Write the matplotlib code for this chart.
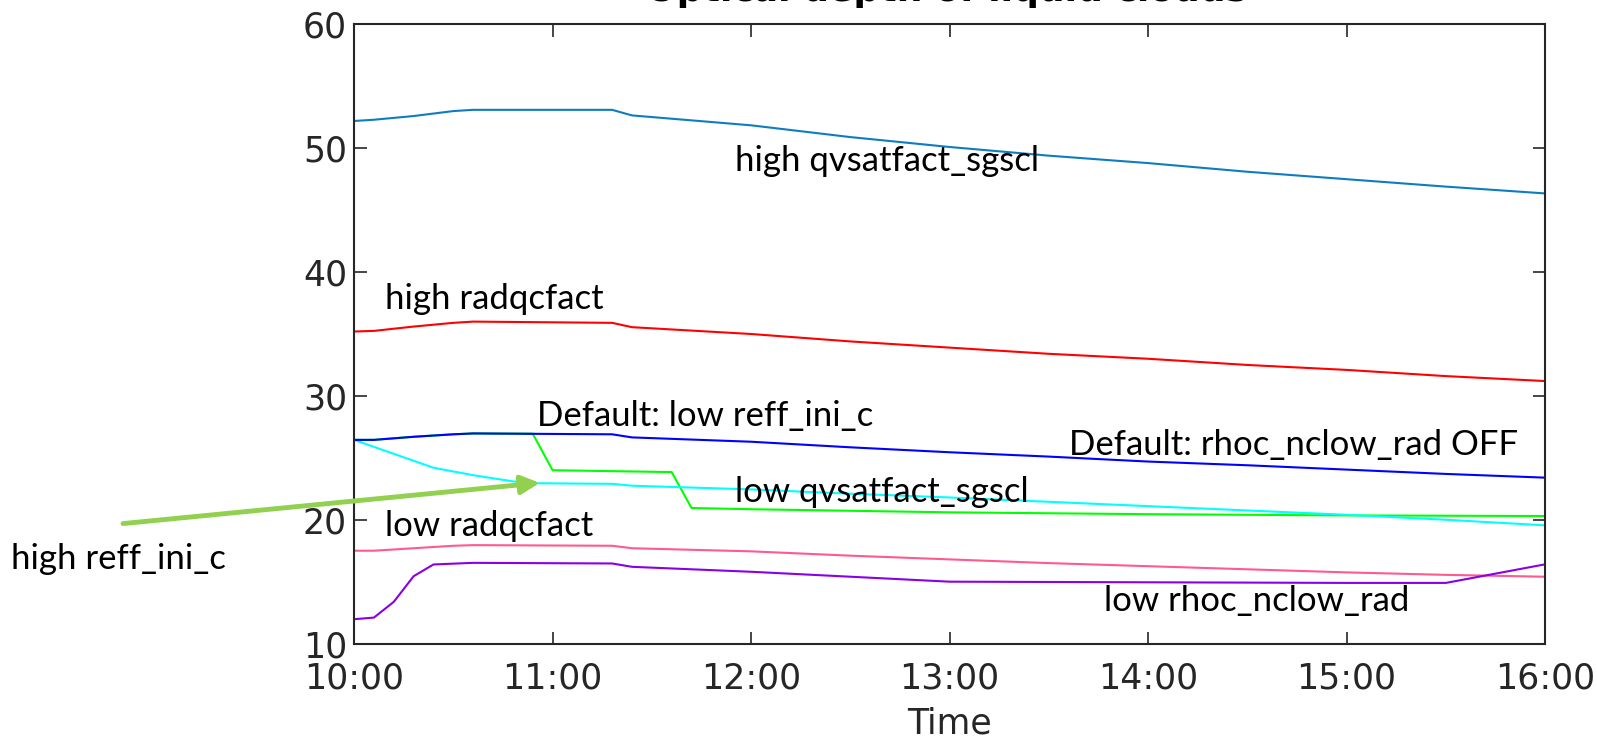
import datetime as dt
import matplotlib
matplotlib.use("Agg")
import matplotlib.pyplot as plt
import matplotlib.dates as mdates
import pandas as pd

# --- data -------------------------------------------------------------
t_main = ["10:00", "10:06", "10:18", "10:30", "10:36", "11:18", "11:24",
          "12:00", "12:30", "13:00", "13:30", "14:00", "14:30", "15:00",
          "15:30", "16:00"]
high_qvsat = [52.2, 52.3, 52.6, 53.0, 53.1, 53.1, 52.65,
              51.85, 50.9, 50.1, 49.4, 48.8, 48.1, 47.5, 46.9, 46.35]
high_radqc = [35.2, 35.25, 35.6, 35.9, 36.0, 35.9, 35.55,
              35.0, 34.4, 33.9, 33.4, 33.0, 32.5, 32.1, 31.6, 31.2]
default_run = [26.45, 26.45, 26.7, 26.9, 26.97, 26.9, 26.65,
               26.3, 25.85, 25.45, 25.1, 24.7, 24.4, 24.05, 23.7, 23.4]
low_radqc = [17.5, 17.5, 17.7, 17.9, 17.95, 17.9, 17.7,
             17.45, 17.1, 16.8, 16.5, 16.25, 16.0, 15.75, 15.55, 15.4]

t_lowqv = ["10:00", "10:24", "10:36", "10:48", "10:54", "11:18", "11:24",
           "12:00", "12:30", "13:00", "13:30", "14:00", "14:30", "15:00",
           "15:30", "16:00"]
low_qvsat = [26.45, 24.2, 23.6, 23.1, 22.95, 22.9, 22.75,
             22.45, 22.1, 21.8, 21.45, 21.1, 20.75, 20.4, 20.0, 19.55]

t_reff = ["10:00", "10:06", "10:18", "10:30", "10:36", "10:54", "11:00",
          "11:36", "11:42", "12:00", "13:00", "14:00", "15:00", "16:00"]
high_reff = [26.45, 26.45, 26.7, 26.9, 26.97, 26.95, 24.0,
             23.85, 20.95, 20.85, 20.6, 20.45, 20.35, 20.3]

t_rhoc = ["10:00", "10:06", "10:12", "10:18", "10:24", "10:36", "11:18",
          "11:24", "12:00", "12:30", "13:00", "14:00", "15:00", "15:30",
          "16:00"]
low_rhoc = [11.97, 12.1, 13.37, 15.44, 16.39, 16.52, 16.47,
            16.2, 15.8, 15.4, 15.0, 14.95, 14.9, 14.9, 16.4]

x_ticks = ["10:00", "11:00", "12:00", "13:00", "14:00", "15:00", "16:00"]
y_ticks = [10, 20, 30, 40, 50, 60]

DAY = "2000-01-01 "


def to_time(labels):
    return pd.to_datetime([DAY + s for s in labels])


def hours_after(base, h):
    return pd.Timestamp(DAY + base) + dt.timedelta(hours=h)


# --- figure -----------------------------------------------------------
plt.rcParams["font.family"] = ["DejaVu Sans"]
fig = plt.figure(figsize=(15.97, 7.39), dpi=100)
ax = fig.add_axes([0.2217, 0.1291, 0.7458, 0.8379])

axis_col = "#262626"
lw = 1.5
ax.plot(to_time(t_reff), high_reff, color="#00FF00", lw=lw)
ax.plot(to_time(t_main), high_qvsat, color="#0E7DC0", lw=lw)
ax.plot(to_time(t_main), high_radqc, color="#FF0000", lw=lw)
ax.plot(to_time(t_lowqv), low_qvsat, color="#00FFFF", lw=lw)
ax.plot(to_time(t_main), default_run, color="#0000FF", lw=lw)
ax.plot(to_time(t_main), low_radqc, color="#FF5A8C", lw=lw)
ax.plot(to_time(t_rhoc), low_rhoc, color="#8A00E6", lw=lw)

ax.set_xlim(to_time(["10:00"])[0], to_time(["16:00"])[0])
ax.set_ylim(10, 60)
ax.set_xticks(to_time(x_ticks))
ax.xaxis.set_major_formatter(mdates.DateFormatter("%H:%M"))
ax.set_yticks(y_ticks)

ax.tick_params(direction="in", length=9, width=1.2, colors=axis_col,
               labelsize=25, top=True, right=True)
ax.tick_params(axis="x", pad=13)
ax.tick_params(axis="y", pad=5)
for s in ax.spines.values():
    s.set_color(axis_col)
    s.set_linewidth(1.5)
ax.set_xlabel("Time", fontsize=25, color=axis_col, labelpad=7.5)

# --- annotations ------------------------------------------------------
lab = dict(fontsize=25, family=["Lato", "DejaVu Sans"], color="black",
           va="center", ha="left")
ax.text(hours_after("10:00", 1.92), 49.0, "high qvsatfact_sgscl", **lab)
ax.text(hours_after("10:00", 0.156), 37.8, "high radqcfact", **lab)
ax.text(hours_after("10:00", 0.92), 28.4, "Default: low reff_ini_c", **lab)
ax.text(hours_after("10:00", 3.6), 26.0, "Default: rhoc_nclow_rad OFF", **lab)
ax.text(hours_after("10:00", 1.92), 22.25, "low qvsatfact_sgscl", **lab)
ax.text(hours_after("10:00", 0.156), 19.5, "low radqcfact", **lab)
ax.text(hours_after("10:00", 3.78), 13.4, "low rhoc_nclow_rad", **lab)
ax.text(hours_after("10:00", -1.73), 16.8, "high reff_ini_c", clip_on=False,
        **lab)

ax.annotate("", xy=(hours_after("10:00", 0.936), 22.98),
            xytext=(hours_after("10:00", -1.164), 19.69),
            arrowprops=dict(arrowstyle="-|>", color="#92D050", lw=3.5,
                            mutation_scale=28, shrinkA=0, shrinkB=0),
            annotation_clip=False)

fig.text(0.5925, 1 - 1.5 / 739, "Optical depth of liquid clouds",
         fontsize=26, fontweight="bold", ha="center", va="baseline",
         color="black")

fig.savefig("out.png", dpi=100)
